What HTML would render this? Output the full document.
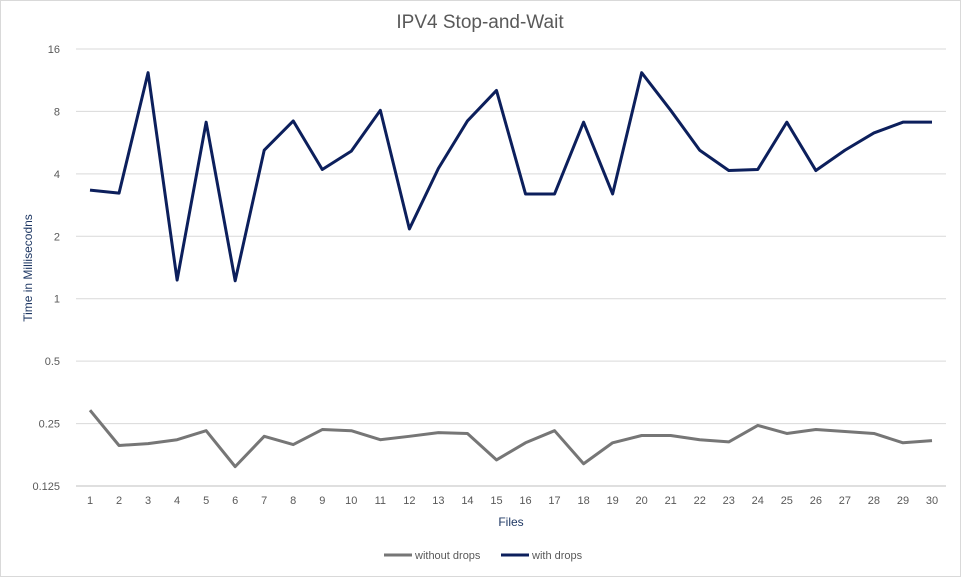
<!DOCTYPE html>
<html><head><meta charset="utf-8"><style>
body{margin:0;background:#fff;font-family:"Liberation Sans",sans-serif}
svg text{font-family:"Liberation Sans",sans-serif}
</style></head><body>
<svg id="chart" width="961" height="577" xmlns="http://www.w3.org/2000/svg">
<rect x="0.5" y="0.5" width="960" height="576" fill="#fff" stroke="#d9d9d9"/>
<text x="480" y="28" text-anchor="middle" font-size="19" fill="#595959">IPV4 Stop-and-Wait</text>
<g id="grid"></g><g id="axes"></g><g id="series"></g>
<text transform="translate(32,268) rotate(-90)" text-anchor="middle" font-size="12" fill="#1f3864">Time in Millisecodns</text>
<text x="511" y="526" text-anchor="middle" font-size="12" fill="#1f3864">Files</text>
<g>
<line x1="384" y1="555" x2="412" y2="555" stroke="#767676" stroke-width="3"/>
<text x="415" y="559" font-size="11" fill="#595959">without drops</text>
<line x1="501" y1="555" x2="529" y2="555" stroke="#0c1f5c" stroke-width="3"/>
<text x="532" y="559" font-size="11" fill="#595959">with drops</text>
</g>
</svg>
<script>
const categories=[1,2,3,4,5,6,7,8,9,10,11,12,13,14,15,16,17,18,19,20,21,22,23,24,25,26,27,28,29,30];
const withDrops=[3.34,3.23,12.3,1.23,7.1,1.22,5.2,7.2,4.2,5.15,8.1,2.17,4.25,7.2,10.1,3.2,3.2,7.1,3.2,12.3,8.1,5.2,4.15,4.2,7.1,4.15,5.2,6.3,7.1,7.1];
const withoutDrops=[0.29,0.196,0.2,0.209,0.231,0.155,0.217,0.198,0.234,0.231,0.209,0.217,0.226,0.224,0.167,0.202,0.231,0.16,0.202,0.219,0.219,0.209,0.204,0.245,0.224,0.234,0.229,0.224,0.202,0.207];
const yTicks=[0.125,0.25,0.5,1,2,4,8,16];
const yTickLabels=["0.125","0.25","0.5","1","2","4","8","16"];
const NS="http://www.w3.org/2000/svg";
const x0=90,x1=932,yTop=49,yBot=486;
function xs(i){return x0+(x1-x0)*(i)/(categories.length-1);}
function ys(v){return yBot-(Math.log2(v)-Math.log2(0.125))/(Math.log2(16)-Math.log2(0.125))*(yBot-yTop);}
function mk(t,a,p){const e=document.createElementNS(NS,t);for(const k in a)e.setAttribute(k,a[k]);p.appendChild(e);return e;}
const grid=document.getElementById('grid'),axes=document.getElementById('axes'),ser=document.getElementById('series');
yTicks.forEach((v,i)=>{
 const y=ys(v);
 const l=mk('line',{x1:76,x2:946,y1:y,y2:y,stroke:i==0?'#bfbfbf':'#d9d9d9'},grid);
 
 
 const t=mk('text',{x:60,y:y+4,'text-anchor':'end','font-size':11,fill:'#595959'},axes);
 t.textContent=yTickLabels[i];
 
 
});
categories.forEach((c,i)=>{
 const t=mk('text',{x:xs(i),y:504,'text-anchor':'middle','font-size':11,fill:'#595959'},axes);
 t.textContent=c;
 
 
});
function line(vals,color,name){
 const p=mk('polyline',{points:vals.map((v,i)=>xs(i)+','+ys(v)).join(' '),fill:'none',stroke:color,'stroke-width':3,'stroke-linejoin':'round'},ser);
 
 
}
line(withoutDrops,'#767676','line-without-drops');
line(withDrops,'#0c1f5c','line-with-drops');
</script>
</body></html>
